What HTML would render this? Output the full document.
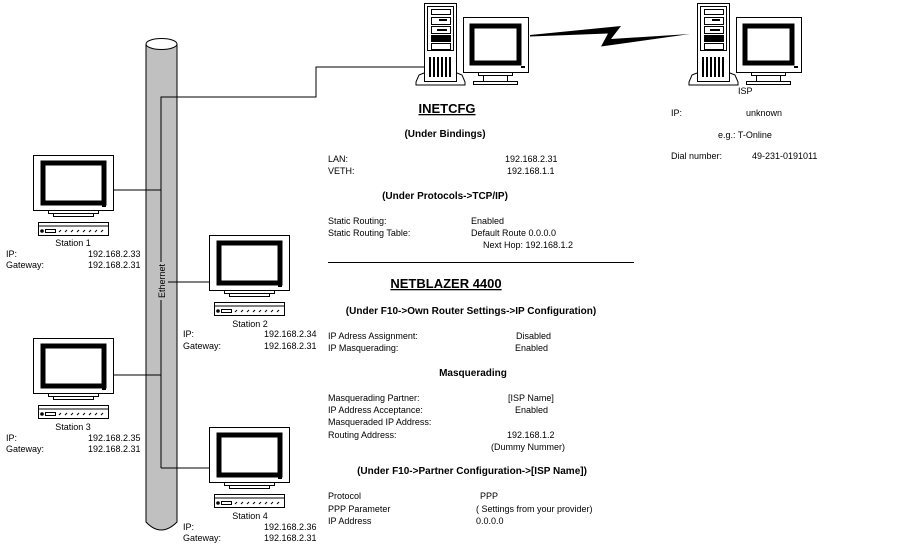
<!DOCTYPE html>
<html><head><meta charset="utf-8"><style>
html,body{margin:0;padding:0;background:#fff}
svg{display:block}
text{font-family:"Liberation Sans",sans-serif;font-size:9px;fill:#000}
.b{font-weight:bold;font-size:10px}
.h{font-weight:bold;font-size:13px;text-decoration:underline}
</style></head><body>
<svg width="916" height="551" viewBox="0 0 916 551" xmlns="http://www.w3.org/2000/svg">
<defs>
<g id="st">
<rect x="0.5" y="0.5" width="80" height="55" fill="#fff" stroke="#000"/>
<rect x="10" y="8" width="61" height="40" fill="#fff" stroke="#000" stroke-width="5"/>
<rect x="69" y="50" width="4" height="2" fill="#000"/>
<rect x="15.5" y="55.5" width="50" height="3" fill="#fff" stroke="#000"/>
<rect x="20.5" y="58.5" width="40" height="3" fill="#fff" stroke="#000"/>
<rect x="5.5" y="67.5" width="70" height="13" fill="#fff" stroke="#000"/>
<line x1="5" y1="71" x2="76" y2="71" stroke="#000"/>
<circle cx="9" cy="76" r="1.8" fill="#000"/>
<rect x="12.5" y="74.5" width="10" height="3" fill="none" stroke="#000"/>
<path d="M26 77 l2-2 M32 77 l2-2 M38 77 l2-2 M44 77 l2-2 M50 77 l2-2 M56 77 l2-2 M62 77 l2-2 M68 77 l2-2" stroke="#000"/>
</g>
<g id="tw">
<path d="M0 70 L-5 72 L-8 79 L-8 82 L41 82 L41 79 L38 72 L33 70" fill="#fff" stroke="#000"/>
<rect x="0.5" y="0.5" width="32" height="78" fill="#fff" stroke="#000"/>
<rect x="3.5" y="3.5" width="26" height="44" fill="none" stroke="#000"/>
<rect x="7.5" y="6.5" width="19" height="5" fill="none" stroke="#000"/>
<rect x="7.5" y="14.5" width="19" height="7" fill="none" stroke="#000"/>
<rect x="15" y="16" width="8" height="2" fill="#000"/>
<rect x="7.5" y="23.5" width="19" height="7" fill="none" stroke="#000"/>
<rect x="13" y="26" width="10" height="2" fill="#000"/>
<rect x="7.5" y="32.5" width="19" height="6" fill="#000" stroke="#000"/>
<rect x="7.5" y="40.5" width="19" height="6" fill="none" stroke="#000"/>
<path d="M6 54 v20 M10 54 v20 M14 54 v20 M18 54 v20 M22 54 v20 M26 54 v20" stroke="#000" stroke-width="2"/>
</g>
<g id="mn">
<rect x="0.5" y="0.5" width="65" height="55" fill="#fff" stroke="#000"/>
<rect x="9" y="9" width="47" height="37" fill="#fff" stroke="#000" stroke-width="5"/>
<rect x="58" y="49" width="4" height="2" fill="#000"/>
<rect x="15.5" y="55.5" width="34" height="3" fill="#fff" stroke="#000"/>
<rect x="20.5" y="58.5" width="24" height="6" fill="#fff" stroke="#000"/>
<rect x="10.5" y="64.5" width="44" height="3" fill="#fff" stroke="#000"/>
</g>
</defs>
<path d="M146 44 L146 522 Q161 538 177 522 L177 44 Z" fill="#c0c0c0" stroke="#000"/>
<ellipse cx="161.5" cy="44" rx="15.5" ry="5.5" fill="#fff" stroke="#000"/>
<path d="M161 468 L161 97 L316 97 L316 67 L424 67" fill="none" stroke="#000"/>
<line x1="113" y1="190" x2="161" y2="190" stroke="#000"/>
<line x1="168" y1="282" x2="209" y2="282" stroke="#000"/>
<line x1="113" y1="375" x2="161" y2="375" stroke="#000"/>
<line x1="161" y1="468" x2="209" y2="468" stroke="#000"/>
<rect x="156" y="262" width="11" height="38" fill="#c0c0c0"/>
<text transform="translate(165,298) rotate(-90)">Ethernet</text>
<use href="#st" x="33" y="155"/>
<use href="#st" x="209" y="235"/>
<use href="#st" x="33" y="338"/>
<use href="#st" x="209" y="427"/>
<text x="73" y="246" text-anchor="middle">Station 1</text>
<text x="6" y="257">IP:</text><text x="88" y="257">192.168.2.33</text>
<text x="6" y="268">Gateway:</text><text x="88" y="268">192.168.2.31</text>
<text x="250" y="327" text-anchor="middle">Station 2</text>
<text x="183" y="337">IP:</text><text x="264" y="337">192.168.2.34</text>
<text x="183" y="349">Gateway:</text><text x="264" y="349">192.168.2.31</text>
<text x="73" y="430" text-anchor="middle">Station 3</text>
<text x="6" y="441">IP:</text><text x="88" y="441">192.168.2.35</text>
<text x="6" y="452">Gateway:</text><text x="88" y="452">192.168.2.31</text>
<text x="250" y="519" text-anchor="middle">Station 4</text>
<text x="183" y="530">IP:</text><text x="264" y="530">192.168.2.36</text>
<text x="183" y="541">Gateway:</text><text x="264" y="541">192.168.2.31</text>
<use href="#tw" x="424" y="3"/>
<use href="#mn" x="463" y="17"/>
<use href="#tw" x="697" y="3"/>
<use href="#mn" x="736" y="17"/>
<path d="M530 35 L606 27.5 L621 26 L611 39 L690 34 L601 46.5 L608 33.5 L530 36.5 Z" fill="#000"/>
<text x="738" y="94">ISP</text>
<text x="671" y="116">IP:</text><text x="746" y="116">unknown</text>
<text x="718" y="138">e.g.: T-Online</text>
<text x="671" y="159">Dial number:</text><text x="752" y="159">49-231-0191011</text>
<text x="447" y="113" class="h" text-anchor="middle">INETCFG</text>
<text x="445" y="137" class="b" text-anchor="middle">(Under Bindings)</text>
<text x="328" y="162">LAN:</text><text x="505" y="162">192.168.2.31</text>
<text x="328" y="174">VETH:</text><text x="507" y="174">192.168.1.1</text>
<text x="445" y="199" class="b" text-anchor="middle">(Under Protocols-&gt;TCP/IP)</text>
<text x="328" y="224">Static Routing:</text><text x="471" y="224">Enabled</text>
<text x="328" y="236">Static Routing Table:</text><text x="471" y="236">Default Route 0.0.0.0</text>
<text x="483" y="248">Next Hop: 192.168.1.2</text>
<line x1="328" y1="262.5" x2="634" y2="262.5" stroke="#000"/>
<text x="446" y="288" class="h" text-anchor="middle">NETBLAZER 4400</text>
<text x="471" y="314" class="b" text-anchor="middle">(Under F10-&gt;Own Router Settings-&gt;IP Configuration)</text>
<text x="328" y="339">IP Adress Assignment:</text><text x="516" y="339">Disabled</text>
<text x="328" y="351">IP Masquerading:</text><text x="515" y="351">Enabled</text>
<text x="473" y="376" class="b" text-anchor="middle">Masquerading</text>
<text x="328" y="401">Masquerading Partner:</text><text x="508" y="401">[ISP Name]</text>
<text x="328" y="413">IP Address Acceptance:</text><text x="515" y="413">Enabled</text>
<text x="328" y="425">Masqueraded IP Address:</text>
<text x="328" y="438">Routing Address:</text><text x="507" y="438">192.168.1.2</text>
<text x="491" y="450">(Dummy Nummer)</text>
<text x="472" y="474" class="b" text-anchor="middle">(Under F10-&gt;Partner Configuration-&gt;[ISP Name])</text>
<text x="328" y="499">Protocol</text><text x="480" y="499">PPP</text>
<text x="328" y="512">PPP Parameter</text><text x="476" y="512">( Settings from your provider)</text>
<text x="328" y="524">IP Address</text><text x="476" y="524">0.0.0.0</text>
</svg>
</body></html>
